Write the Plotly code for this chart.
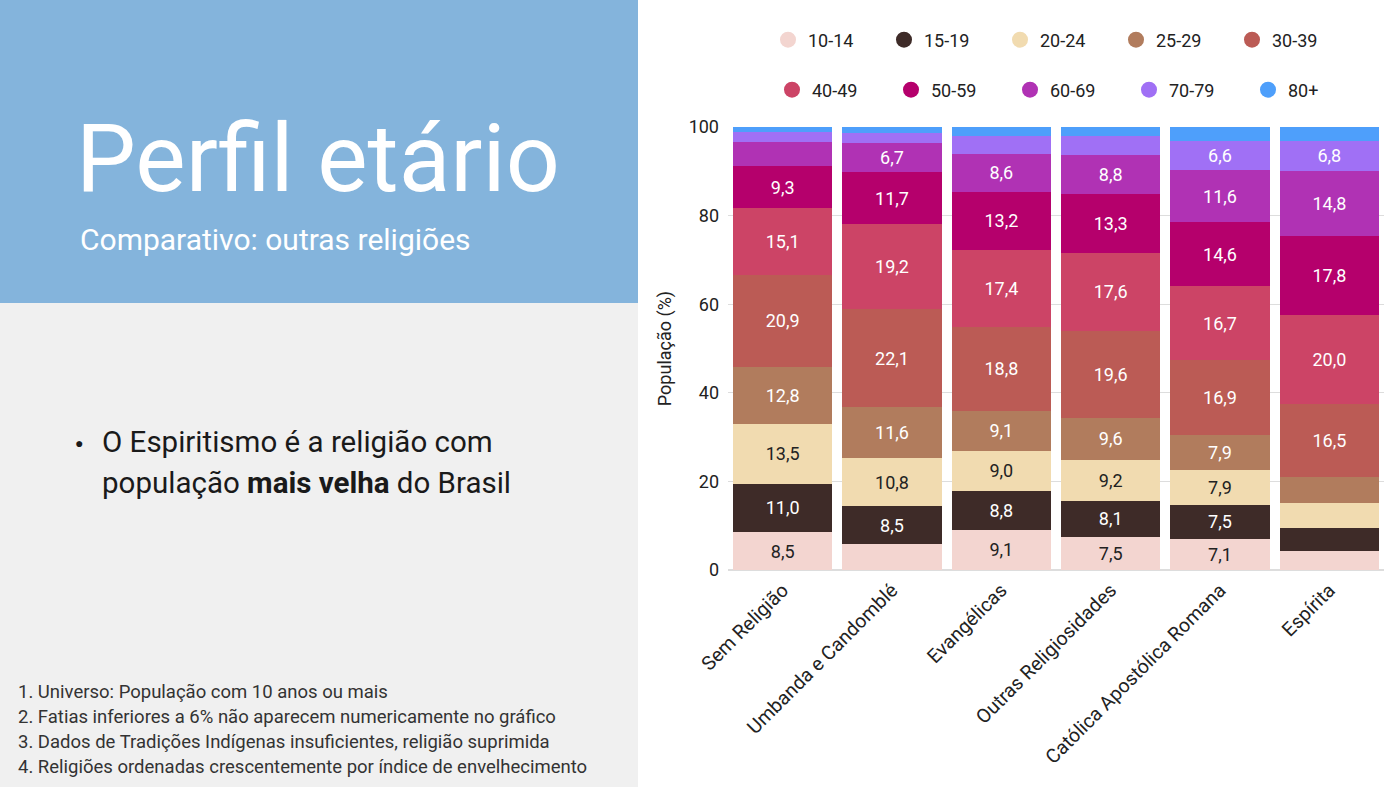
import plotly.graph_objects as go

# religions, ordered by ageing index
religioes = ["Sem Religião", "Umbanda e Candomblé", "Evangélicas",
             "Outras Religiosidades", "Católica Apostólica Romana", "Espírita"]

faixas = ["10-14", "15-19", "20-24", "25-29", "30-39",
          "40-49", "50-59", "60-69", "70-79", "80+"]

# share of population (%) per age band, one list per band
p10_14 = [8.5, 5.9, 9.1, 7.5, 7.1, 4.4]
p15_19 = [11.0, 8.5, 8.8, 8.1, 7.5, 5.0]
p20_24 = [13.5, 10.8, 9.0, 9.2, 7.9, 5.7]
p25_29 = [12.8, 11.6, 9.1, 9.6, 7.9, 5.9]
p30_39 = [20.9, 22.1, 18.8, 19.6, 16.9, 16.5]
p40_49 = [15.1, 19.2, 17.4, 17.6, 16.7, 20.0]
p50_59 = [9.3, 11.7, 13.2, 13.3, 14.6, 17.8]
p60_69 = [5.5, 6.7, 8.6, 8.8, 11.6, 14.8]
p70_79 = [2.2, 2.2, 4.0, 4.3, 6.6, 6.8]
p80 = [1.2, 1.3, 2.0, 2.0, 3.2, 3.1]

valores = [p10_14, p15_19, p20_24, p25_29, p30_39,
           p40_49, p50_59, p60_69, p70_79, p80]

cores = ["#f3d5d0", "#3e2b28", "#f1dbb0", "#b17c5d", "#bb5b55",
         "#cc4466", "#b5006c", "#b032b4", "#a070f5", "#4e9ffb"]
cor_texto = ["#222222", "white", "#222222", "white", "white",
             "white", "white", "white", "white", "white"]

notas = [
    "1. Universo: População com 10 anos ou mais",
    "2. Fatias inferiores a 6% não aparecem numericamente no gráfico",
    "3. Dados de Tradições Indígenas insuficientes, religião suprimida",
    "4. Religiões ordenadas crescentemente por índice de envelhecimento",
]

FONT = "Roboto"
W, H = 1400, 787


def px(x):
    return x / W


def py(y):
    return 1 - y / H


fig = go.Figure()

for i, (faixa, vals) in enumerate(zip(faixas, valores)):
    rotulos = [f"{v:.1f}".replace(".", ",") if v >= 6 else "" for v in vals]
    fig.add_trace(go.Bar(
        x=religioes, y=vals, name=faixa,
        marker=dict(color=cores[i], line_width=0),
        text=rotulos, textposition="inside", insidetextanchor="middle",
        textangle=0, constraintext="none",
        textfont=dict(family=FONT, size=18, color=cor_texto[i]),
        showlegend=False, hoverinfo="x+y+name",
    ))

# legend entries as circles, split in two rows
for i, faixa in enumerate(faixas):
    fig.add_trace(go.Scatter(
        x=[None], y=[None], mode="markers", name=faixa,
        marker=dict(color=cores[i], size=18, symbol="circle"),
        legend="legend" if i < 5 else "legend2",
    ))

shapes = [
    dict(type="rect", xref="paper", yref="paper",
         x0=0, x1=px(638), y0=py(303), y1=1,
         fillcolor="#84b4dc", line_width=0, layer="below"),
    dict(type="rect", xref="paper", yref="paper",
         x0=0, x1=px(638), y0=0, y1=py(303),
         fillcolor="#f0f0f0", line_width=0, layer="below"),
]

annotations = [
    dict(text="Perfil etário", x=px(74), y=py(158), xanchor="left",
         yanchor="middle", font=dict(family=FONT, size=95, color="white")),
    dict(text="Comparativo: outras religiões", x=px(78), y=py(240),
         xanchor="left", yanchor="middle",
         font=dict(family=FONT, size=30, color="white")),
    dict(text="●", x=px(73), y=py(443), xanchor="left", yanchor="middle",
         font=dict(family=FONT, size=14, color="#1a1a1a")),
    dict(text="O Espiritismo é a religião com", x=px(100), y=py(442),
         xanchor="left", yanchor="middle",
         font=dict(family=FONT, size=29.5, color="#1a1a1a")),
    dict(text="população <b>mais velha</b> do Brasil", x=px(100), y=py(483),
         xanchor="left", yanchor="middle",
         font=dict(family=FONT, size=29.5, color="#1a1a1a")),
]
for k, nota in enumerate(notas):
    annotations.append(dict(
        text=nota, x=px(16), y=py(692 + 25 * k), xanchor="left",
        yanchor="middle", font=dict(family=FONT, size=18.5, color="#333333")))

for a in annotations:
    a.update(xref="paper", yref="paper", showarrow=False)

legend_style = dict(orientation="h", xanchor="left", yanchor="middle",
                    traceorder="normal",
                    font=dict(family=FONT, size=18, color="#222222"),
                    entrywidthmode="pixels",
                    bgcolor="rgba(0,0,0,0)", itemclick=False)

fig.update_layout(
    width=W, height=H,
    margin=dict(l=0, r=0, t=0, b=0, autoexpand=False),
    paper_bgcolor="white", plot_bgcolor="white",
    barmode="stack", bargap=0.09,
    font=dict(family=FONT, size=18, color="#222222"),
    shapes=shapes, annotations=annotations,
    legend=dict(x=px(768), y=py(40), entrywidth=71, **legend_style),
    legend2=dict(x=px(772), y=py(90), entrywidth=74, **legend_style),
    xaxis=dict(domain=[px(728), px(1384)], tickangle=-45, automargin=False,
               ticklabelstandoff=4,
               tickfont=dict(family=FONT, size=19.5, color="#222222"),
               showgrid=False, ticks="", showline=False),
    yaxis=dict(domain=[py(570), py(127)], range=[0, 100], automargin=False,
               tickvals=[0, 20, 40, 60, 80, 100], showgrid=True,
               ticklabelstandoff=8,
               gridcolor="#dddddd", zeroline=True, zerolinecolor="#dddddd",
               tickfont=dict(family=FONT, size=18, color="#222222"),
               title=dict(text="População (%)", standoff=12,
                          font=dict(family=FONT, size=18, color="#222222"))),
)

fig.write_html("out.html", config={"displayModeBar": False},
               post_script="document.body.style.margin='0';")
